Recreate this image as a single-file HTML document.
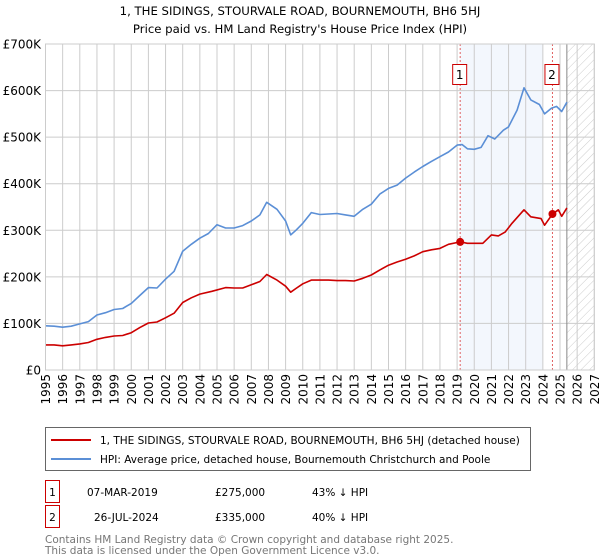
<!DOCTYPE html>
<html><head><meta charset="utf-8"><style>
body{margin:0;background:#fff;}
svg{display:block;font-family:"DejaVu Sans","Liberation Sans",sans-serif;}
</style></head><body>
<svg id="chart" width="600" height="560" viewBox="0 0 600 560">
<defs>
<pattern id="hatch" width="6" height="6" patternUnits="userSpaceOnUse" patternTransform="rotate(45)">
<line x1="0" y1="0" x2="0" y2="6" stroke="#cccccc" stroke-width="1"/>
</pattern>
</defs>
<text x="300" y="15" text-anchor="middle" font-size="11.7" fill="#000">1, THE SIDINGS, STOURVALE ROAD, BOURNEMOUTH, BH6 5HJ</text>
<text x="300" y="33" text-anchor="middle" font-size="11.7" fill="#000">Price paid vs. HM Land Registry's House Price Index (HPI)</text>
<g id="plot"></g>
<g>
<rect x="45.5" y="427.5" width="485" height="43" fill="#fff" stroke="#666"/>
<line x1="51" y1="440" x2="91" y2="440" stroke="#cc0000" stroke-width="2"/>
<text x="100" y="444" font-size="10.5">1, THE SIDINGS, STOURVALE ROAD, BOURNEMOUTH, BH6 5HJ (detached house)</text>
<line x1="51" y1="459" x2="91" y2="459" stroke="#5b8fd6" stroke-width="2"/>
<text x="100" y="463" font-size="10.5">HPI: Average price, detached house, Bournemouth Christchurch and Poole</text>
</g>
<g font-size="10.5">
<rect x="45.5" y="480.5" width="14" height="22" fill="#fff" stroke="#cc0000"/>
<text x="52.5" y="496" text-anchor="middle">1</text>
<text x="87" y="496">07-MAR-2019</text>
<text x="215" y="496">£275,000</text>
<text x="312" y="496">43% ↓ HPI</text>
<rect x="45.5" y="505.5" width="14" height="22" fill="#fff" stroke="#cc0000"/>
<text x="52.5" y="521" text-anchor="middle">2</text>
<text x="94" y="521">26-JUL-2024</text>
<text x="215" y="521">£335,000</text>
<text x="312" y="521">40% ↓ HPI</text>
</g>
<text x="45" y="543" font-size="10.5" fill="#777">Contains HM Land Registry data © Crown copyright and database right 2025.</text>
<text x="45" y="554" font-size="10.5" fill="#777">This data is licensed under the Open Government Licence v3.0.</text>
</svg>
<script>
const yTicks=[0,100000,200000,300000,400000,500000,600000,700000];
const yTickLabels=["£0","£100K","£200K","£300K","£400K","£500K","£600K","£700K"];
const xYears=[1995,1996,1997,1998,1999,2000,2001,2002,2003,2004,2005,2006,2007,2008,2009,2010,2011,2012,2013,2014,2015,2016,2017,2018,2019,2020,2021,2022,2023,2024,2025,2026,2027];
const hpiDates=[1995,1995.5,1996,1996.5,1997,1997.5,1998,1998.5,1999,1999.5,2000,2000.5,2001,2001.5,2002,2002.5,2003,2003.5,2004,2004.5,2005,2005.5,2006,2006.5,2007,2007.5,2007.9,2008.5,2009,2009.3,2009.6,2010,2010.5,2011,2011.5,2012,2012.5,2013,2013.5,2014,2014.5,2015,2015.5,2016,2016.5,2017,2017.5,2018,2018.5,2019,2019.3,2019.6,2020,2020.4,2020.8,2021.2,2021.7,2022,2022.5,2022.9,2023.3,2023.8,2024.1,2024.5,2024.8,2025.1,2025.4];
const hpiValues=[95000,94000,92000,94000,99000,104000,118000,123000,130000,132000,143000,160000,177000,176000,195000,212000,255000,270000,283000,293000,312000,305000,305000,310000,320000,333000,360000,345000,320000,290000,300000,315000,338000,334000,335000,336000,333000,330000,345000,356000,378000,390000,397000,412000,425000,437000,448000,458000,468000,483000,484000,475000,474000,478000,503000,496000,515000,522000,558000,606000,580000,570000,550000,562000,566000,555000,575000];
const priceDates=[1995,1995.5,1996,1996.5,1997,1997.5,1998,1998.5,1999,1999.5,2000,2000.5,2001,2001.5,2002,2002.5,2003,2003.5,2004,2004.7,2005.5,2006,2006.5,2007,2007.5,2007.9,2008.5,2009,2009.3,2009.6,2010,2010.5,2011,2011.5,2012,2012.5,2013,2013.5,2014,2014.5,2015,2015.5,2016,2016.5,2017,2017.5,2018,2018.5,2019.18,2019.6,2020,2020.5,2021,2021.4,2021.8,2022.2,2022.9,2023.3,2023.9,2024.1,2024.56,2024.9,2025.1,2025.4];
const priceValues=[54000,54000,52000,54000,56000,59000,66000,70000,73000,74000,80000,91000,101000,103000,112000,122000,145000,155000,163000,169000,177000,176000,176000,183000,190000,205000,193000,180000,167000,175000,185000,193000,193000,193000,192000,192000,191000,197000,204000,215000,225000,232000,238000,245000,254000,258000,261000,270000,275000,272000,272000,272000,290000,288000,296000,315000,344000,329000,325000,311000,335000,344000,330000,348000];
const sales=[{d:2019.18,v:275000,n:"1"},{d:2024.56,v:335000,n:"2"}];

const X0=45.5,X1=594.3,Y0=370,Y1=44;
const xs=y=>X0+(y-1995)/(2027-1995)*(X1-X0);
const ys=v=>Y0-v/700000*(Y0-Y1);
const NS="http://www.w3.org/2000/svg";
const plot=document.getElementById('plot');
function mk(tag,attrs,parent){const e=document.createElementNS(NS,tag);for(const k in attrs)e.setAttribute(k,attrs[k]);(parent||plot).appendChild(e);return e;}

let e;
e=mk('rect',{x:X0,y:Y1,width:X1-X0,height:Y0-Y1,fill:'#fff'});


e=mk('rect',{x:xs(2019.18),y:Y1,width:xs(2024)-xs(2019.18),height:Y0-Y1,fill:'#eef3fc',opacity:0.7});


e=mk('rect',{x:xs(2025.4),y:Y1,width:X1-xs(2025.4),height:Y0-Y1,fill:'url(#hatch)'});



xYears.forEach(yr=>{
  const x=xs(yr);
  const g=mk('line',{x1:x,x2:x,y1:Y1,y2:Y0,stroke:'#cccccc','stroke-width':1});
  
  
  const t=mk('text',{x:0,y:0,transform:`translate(${x+4.5},${374}) rotate(-90)`,'text-anchor':'end','font-size':12,fill:'#000'});
  t.textContent=yr;
  
  
});
yTicks.forEach((v,i)=>{
  const y=ys(v);
  const g=mk('line',{x1:X0,x2:X1,y1:y,y2:y,stroke:'#cccccc','stroke-width':1});
  
  
  const t=mk('text',{x:41,y:y+4.5,'text-anchor':'end','font-size':12,fill:'#000'});
  t.textContent=yTickLabels[i];
  
  
});
e=mk('line',{x1:xs(2025.4),x2:xs(2025.4),y1:Y1,y2:Y0,stroke:'#888','stroke-width':1});



sales.forEach(s=>{
  const x=xs(s.d);
  const l=mk('line',{x1:x,x2:x,y1:Y1,y2:Y0,stroke:'#e06060','stroke-width':1,'stroke-dasharray':'2,2'});
  
  
  const r=mk('rect',{x:x-7.5,y:64.5,width:14,height:20,fill:'#fff',stroke:'#cc0000'});
  
  
  const t=mk('text',{x:x-0.5,y:79,'text-anchor':'middle','font-size':12});
  t.textContent=s.n;
  
  
});

function path(ds,vs){return ds.map((d,i)=>(i?'L':'M')+xs(d).toFixed(1)+','+ys(vs[i]).toFixed(1)).join(' ');}
e=mk('path',{d:path(hpiDates,hpiValues),fill:'none',stroke:'#5b8fd6','stroke-width':1.6,'stroke-linejoin':'round'});


e=mk('path',{d:path(priceDates,priceValues),fill:'none',stroke:'#cc0000','stroke-width':1.6,'stroke-linejoin':'round'});


sales.forEach(s=>{
  const c=mk('circle',{cx:xs(s.d),cy:ys(s.v),r:4,fill:'#cc0000'});
  
  
});
e=mk('rect',{x:X0,y:Y1,width:X1-X0,height:Y0-Y1,fill:'none',stroke:'#cccccc'});


</script>
</body></html>
